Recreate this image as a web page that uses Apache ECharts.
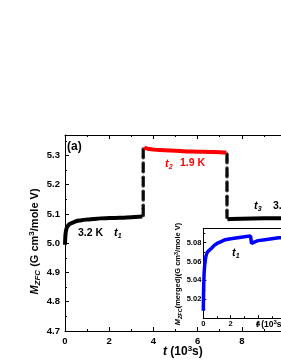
<!DOCTYPE html>
<html><head><meta charset="utf-8">
<script src="https://cdn.jsdelivr.net/npm/echarts@6/dist/echarts.min.js"></script>
<style>html,body{margin:0;padding:0;background:#fff}#c{width:281px;height:363px}</style>
</head><body><div id="c"></div>
<script>
// main panel, segment 1 (3.2 K)
const seg1T = [0, 0.005, 0.01, 0.02, 0.04, 0.06, 0.1, 0.15, 0.2, 0.3, 0.4, 0.5, 0.7, 1.0, 1.3, 1.6, 2.0, 2.5, 3.0, 3.5];
const seg1M = [4.995, 5.005, 5.015, 5.028, 5.040, 5.048, 5.056, 5.061, 5.065, 5.069, 5.072, 5.075, 5.078, 5.081, 5.083, 5.085, 5.086, 5.087, 5.089, 5.091];
// transition 1 (vertical points)
const jump1T = 3.54;
const jump1M = [5.322,5.317,5.312,5.307,5.302,5.297,5.292,
                5.274,5.269,5.264,5.259,5.254,5.249,5.244,
                5.226,5.221,5.216,5.211,5.206,5.201,5.196,
                5.178,5.173,5.168,5.163,5.158,5.153,5.148,
                5.130,5.125,5.120,5.115,5.110,5.105,5.100,5.095];
// segment 2 (1.9 K, red)
const seg2T = [3.58, 3.65, 3.8, 4.0, 4.5, 5.0, 5.5, 6.0, 6.5, 7.0, 7.3];
const seg2M = [5.328, 5.325, 5.322, 5.320, 5.318, 5.316, 5.314, 5.313, 5.312, 5.311, 5.310];
// transition 2
const jump2T = 7.33;
const jump2M = [5.305,5.300,5.295,5.290,5.285,5.280,5.275,
                5.257,5.252,5.247,5.242,5.237,5.232,5.227,
                5.209,5.204,5.199,5.194,5.189,5.184,5.179,
                5.161,5.156,5.151,5.146,5.141,5.136,5.131,
                5.113,5.108,5.103,5.098,5.093,5.088];
// segment 3 (3.2 K)
const seg3T = [7.35, 7.5, 8.0, 9.0, 10.0];
const seg3M = [5.082, 5.083, 5.084, 5.085, 5.086];
// inset: merged curve
const insetT = [0, 0.01, 0.03, 0.06, 0.1, 0.15, 0.2, 0.3, 0.45, 0.6, 0.8, 1.0, 1.3, 1.6, 2.0, 2.5, 3.0, 3.45, 3.52, 3.6, 3.8, 4.0, 4.5, 5.0, 5.5, 6.0];
const insetM = [5.008, 5.020, 5.035, 5.048, 5.056, 5.062, 5.066, 5.070, 5.072, 5.074, 5.077, 5.079, 5.081, 5.083, 5.084, 5.085, 5.086, 5.087, 5.079, 5.079, 5.081, 5.082, 5.083, 5.084, 5.085, 5.085];

const FF = 'Liberation Sans, Arial, sans-serif';
const pairs = (xs, ys) => xs.map((x, i) => [x, ys[i]]);
const vert = (x, ys) => ys.map(y => [x, y]);

const lab = (size, margin, fmt) => ({fontFamily: FF, fontWeight: 'bold', fontSize: size, color: '#000', margin: margin, formatter: fmt});
const axLine = {lineStyle: {color: '#000', width: 1}};

const chart = echarts.init(document.getElementById('c'));
chart.setOption({
  animation: false,
  backgroundColor: '#fff',
  grid: [
    {left: 65, top: 135, width: 221, height: 196, show: false, containLabel: false, outerBoundsMode: 'none'},
    {left: 203.3, top: 228.3, width: 82.2, height: 90, show: true, backgroundColor: '#fff', borderWidth: 0, z: 5, containLabel: false, outerBoundsMode: 'none'}
  ],
  xAxis: [
    {gridIndex: 0, type: 'value', min: 0, max: 10, interval: 2, position: 'bottom',
     axisLine: axLine, axisTick: {inside: true, length: 4, lineStyle: {color: '#000'}},
     minorTick: {show: true, splitNumber: 2, length: 2, lineStyle: {color: '#000'}},
     splitLine: {show: false}, axisLabel: lab(9.5, 5, v => String(v))},
    {gridIndex: 0, type: 'value', min: 0, max: 10, interval: 2, position: 'top',
     axisLine: axLine, axisTick: {inside: true, length: 4, lineStyle: {color: '#000'}},
     minorTick: {show: true, splitNumber: 2, length: 2, lineStyle: {color: '#000'}},
     splitLine: {show: false}, axisLabel: {show: false}},
    {gridIndex: 1, type: 'value', min: 0, max: 6, interval: 2, position: 'bottom', z: 6,
     axisLine: axLine, axisTick: {inside: true, length: 3, lineStyle: {color: '#000'}},
     minorTick: {show: true, splitNumber: 2, length: 2, lineStyle: {color: '#000'}},
     splitLine: {show: false}, axisLabel: lab(7.5, 2, v => String(v))},
    {gridIndex: 1, type: 'value', min: 0, max: 6, interval: 2, position: 'top', z: 6,
     axisLine: axLine, axisTick: {show: false}, splitLine: {show: false}, axisLabel: {show: false}}
  ],
  yAxis: [
    {gridIndex: 0, type: 'value', min: 4.7, max: 5.37, interval: 0.1,
     axisLine: axLine, axisTick: {inside: true, length: 4, lineStyle: {color: '#000'}},
     minorTick: {show: true, splitNumber: 2, length: 2, lineStyle: {color: '#000'}},
     splitLine: {show: false},
     axisLabel: lab(9.5, 5, v => Math.abs(v * 10 - Math.round(v * 10)) < 1e-6 ? v.toFixed(1) : '')},
    {gridIndex: 1, type: 'value', min: 5.0, max: 5.095, interval: 0.02, z: 6,
     axisLine: axLine, axisTick: {inside: true, length: 3, lineStyle: {color: '#000'}},
     minorTick: {show: true, splitNumber: 2, length: 2, lineStyle: {color: '#000'}},
     splitLine: {show: false},
     axisLabel: lab(7.5, 2, v => { const k = v / 0.02; return (Math.abs(k - Math.round(k)) > 1e-6 || v < 5.001) ? '' : v.toFixed(2); })}
  ],
  series: [
    {type: 'line', xAxisIndex: 0, yAxisIndex: 0, data: pairs(seg1T, seg1M), showSymbol: false, smooth: true,
     lineStyle: {color: '#000', width: 4}},
    {type: 'scatter', xAxisIndex: 0, yAxisIndex: 0, data: vert(jump1T, jump1M), symbolSize: 3.5,
     itemStyle: {color: '#000'}},
    {type: 'line', xAxisIndex: 0, yAxisIndex: 0, data: pairs(seg2T, seg2M), showSymbol: false, smooth: true,
     lineStyle: {color: '#ff0000', width: 4}},
    {type: 'scatter', xAxisIndex: 0, yAxisIndex: 0, data: vert(jump2T, jump2M), symbolSize: 3.5,
     itemStyle: {color: '#000'}},
    {type: 'line', xAxisIndex: 0, yAxisIndex: 0, data: pairs(seg3T, seg3M), showSymbol: false,
     lineStyle: {color: '#000', width: 4}},
    {type: 'line', xAxisIndex: 2, yAxisIndex: 1, data: pairs(insetT, insetM), showSymbol: false, z: 7,
     lineStyle: {color: '#0000ff', width: 3.5}}
  ],
  graphic: [
    {type: 'text', x: 67, y: 147, style: {text: '(a)', font: 'bold 12px ' + FF, fill: '#000', verticalAlign: 'middle'}},
    {type: 'text', x: 78, y: 233, style: {text: '3.2 K', font: 'bold 10.5px ' + FF, fill: '#000', verticalAlign: 'middle'}},
    {type: 'text', x: 114, y: 233, style: {text: '{i|t}{s|1}', fill: '#000', verticalAlign: 'middle',
      rich: {i: {fontFamily: FF, fontWeight: 'bold', fontStyle: 'italic', fontSize: 11, lineHeight: 13},
             s: {fontFamily: FF, fontWeight: 'bold', fontStyle: 'italic', fontSize: 7, lineHeight: 7, verticalAlign: 'bottom'}}}},
    {type: 'text', x: 165, y: 164, style: {text: '{i|t}{s|2}', fill: '#ff0000', verticalAlign: 'middle',
      rich: {i: {fontFamily: FF, fontWeight: 'bold', fontStyle: 'italic', fontSize: 11, lineHeight: 13, color: '#ff0000'},
             s: {fontFamily: FF, fontWeight: 'bold', fontStyle: 'italic', fontSize: 7, lineHeight: 7, verticalAlign: 'bottom', color: '#ff0000'}}}},
    {type: 'text', x: 180, y: 163, style: {text: '1.9 K', font: 'bold 10.5px ' + FF, fill: '#ff0000', verticalAlign: 'middle'}},
    {type: 'text', x: 254, y: 206, style: {text: '{i|t}{s|3}', fill: '#000', verticalAlign: 'middle',
      rich: {i: {fontFamily: FF, fontWeight: 'bold', fontStyle: 'italic', fontSize: 11, lineHeight: 13},
             s: {fontFamily: FF, fontWeight: 'bold', fontStyle: 'italic', fontSize: 7, lineHeight: 7, verticalAlign: 'bottom'}}}},
    {type: 'text', x: 273, y: 206, style: {text: '3.2 K', font: 'bold 10.5px ' + FF, fill: '#000', verticalAlign: 'middle'}},
    {type: 'text', x: 232, y: 253, z: 10, style: {text: '{i|t}{s|1}', fill: '#000', verticalAlign: 'middle',
      rich: {i: {fontFamily: FF, fontWeight: 'bold', fontStyle: 'italic', fontSize: 11, lineHeight: 13},
             s: {fontFamily: FF, fontWeight: 'bold', fontStyle: 'italic', fontSize: 7, lineHeight: 7, verticalAlign: 'bottom'}}}},
    // main x title
    {type: 'text', x: 163, y: 352, style: {text: '{i|t}{n| (10}{p|3}{n|s)}', fill: '#000', verticalAlign: 'middle',
      rich: {i: {fontFamily: FF, fontWeight: 'bold', fontStyle: 'italic', fontSize: 12, lineHeight: 15},
             n: {fontFamily: FF, fontWeight: 'bold', fontSize: 12, lineHeight: 15},
             p: {fontFamily: FF, fontWeight: 'bold', fontSize: 8, lineHeight: 8, verticalAlign: 'top'}}}},
    // main y title
    {type: 'text', x: 35, y: 241.5, rotation: Math.PI / 2, style: {text: '{i|M}{s|ZFC}{n| (G cm}{p|3}{n|/mole V)}', fill: '#000', align: 'center', verticalAlign: 'middle',
      rich: {i: {fontFamily: FF, fontWeight: 'bold', fontStyle: 'italic', fontSize: 11, lineHeight: 14},
             s: {fontFamily: FF, fontWeight: 'bold', fontStyle: 'italic', fontSize: 8, lineHeight: 8, verticalAlign: 'bottom'},
             n: {fontFamily: FF, fontWeight: 'bold', fontSize: 11, lineHeight: 14},
             p: {fontFamily: FF, fontWeight: 'bold', fontSize: 8, lineHeight: 8, verticalAlign: 'top'}}}},
    // inset y title
    {type: 'text', x: 178, y: 274, z: 10, rotation: Math.PI / 2, style: {text: '{i|M}{s|ZFC}{n|(merged)(G cm}{p|3}{n|/mole V)}', fill: '#000', align: 'center', verticalAlign: 'middle',
      rich: {i: {fontFamily: FF, fontWeight: 'bold', fontStyle: 'italic', fontSize: 7.5, lineHeight: 10},
             s: {fontFamily: FF, fontWeight: 'bold', fontStyle: 'italic', fontSize: 5.5, lineHeight: 5.5, verticalAlign: 'bottom'},
             n: {fontFamily: FF, fontWeight: 'bold', fontSize: 7.5, lineHeight: 10},
             p: {fontFamily: FF, fontWeight: 'bold', fontSize: 5.5, lineHeight: 5.5, verticalAlign: 'top'}}}},
    // inset x title
    {type: 'text', x: 256, y: 325, z: 10, style: {text: '{i|t}{n| (10}{p|3}{n|s)}', fill: '#000', verticalAlign: 'middle',
      rich: {i: {fontFamily: FF, fontWeight: 'bold', fontStyle: 'italic', fontSize: 8.5, lineHeight: 11},
             n: {fontFamily: FF, fontWeight: 'bold', fontSize: 8.5, lineHeight: 11},
             p: {fontFamily: FF, fontWeight: 'bold', fontSize: 6, lineHeight: 6, verticalAlign: 'top'}}}}
  ]
});
</script></body></html>
